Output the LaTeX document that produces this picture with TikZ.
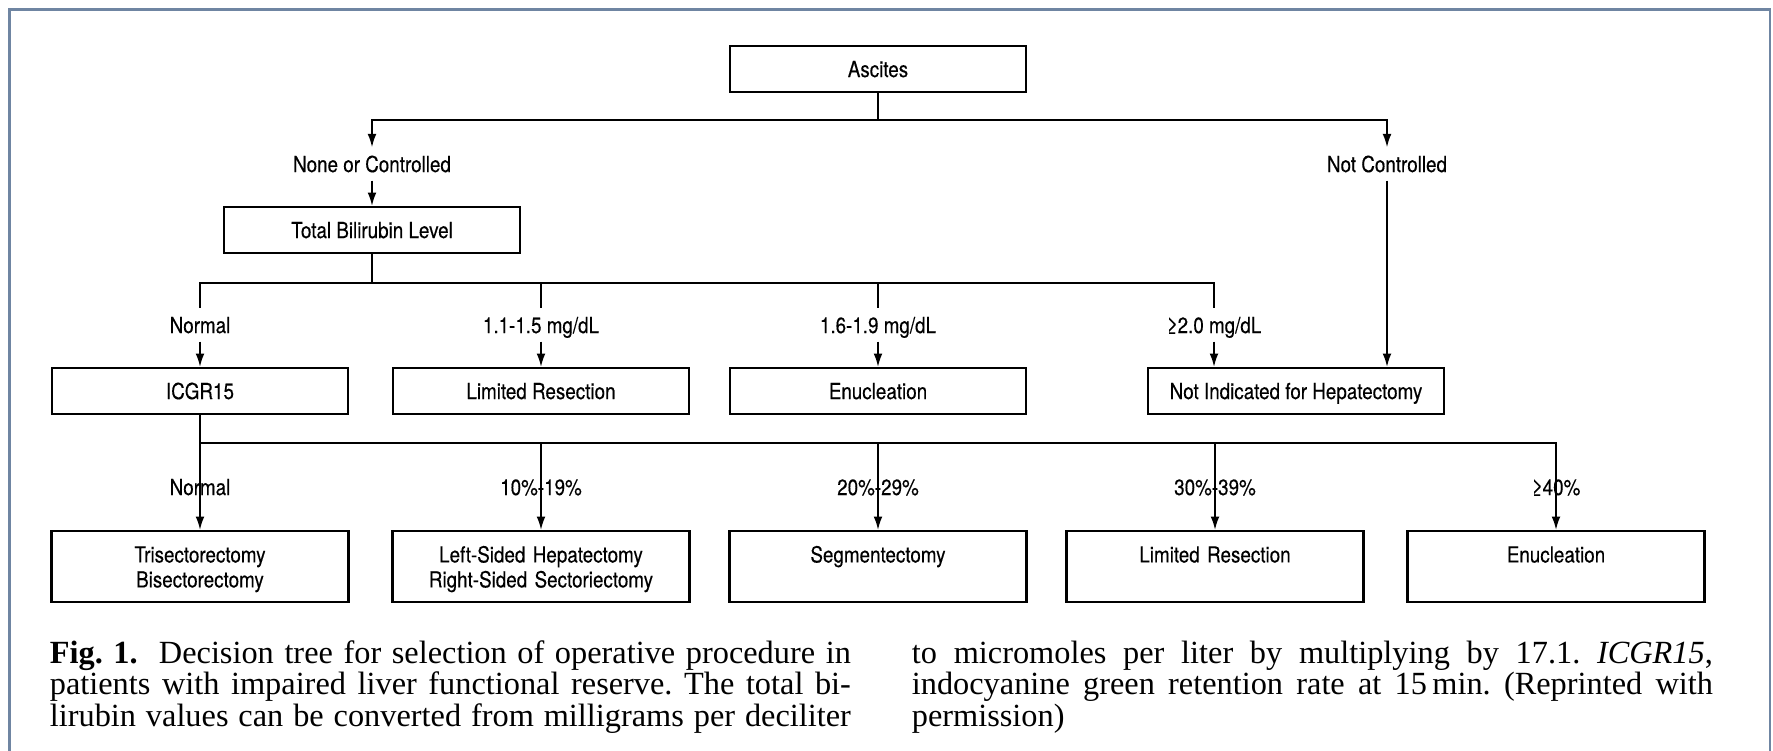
\documentclass[tikz,border=0pt]{standalone}
\usepackage{fontspec}
\usetikzlibrary{arrows.meta}

\newfontfamily\chartfont[FakeStretch=0.85,FakeBold=0.3]{TeX Gyre Heros}
\newfontfamily\captfont{Liberation Serif}
\definecolor{framecol}{HTML}{6F85A2}
\setlength{\parindent}{0pt}
\frenchspacing

\tikzset{
  box/.style={draw, line width=0.6pt, minimum width=2.96cm, minimum height=0.46cm,
    inner sep=0pt, text height=4.6pt, text depth=0pt,
    font=\chartfont\fontsize{6.3}{7.1}\selectfont},
  leaf/.style={draw, line width=0.6pt, minimum width=2.97cm, text width=2.8cm,
    align=center, inner xsep=0pt, inner ysep=4.35pt, text height=4.6pt, text depth=6.9pt,
    font=\chartfont\fontsize{6.3}{7.1}\selectfont},
  lbl/.style={inner xsep=1pt, inner ysep=2.2pt, text height=4.6pt, text depth=0pt,
    font=\chartfont\fontsize{6.3}{7.1}\selectfont},
  capt/.style={anchor=base west, inner sep=0pt, text width=8.01cm, align=justify,
    font=\captfont\fontsize{9.2}{9.1}\selectfont}
}

\begin{document}
\begin{tikzpicture}[line width=0.5pt, >={Latex[length=3.8pt,width=2.5pt]}]

\useasboundingbox (0,0) rectangle (17.73,-7.51);
\draw[framecol, line width=0.6pt] (0.095,-0.095) rectangle (17.70,-7.70);

% plot the ascites box
\node[box] (ascites) at (8.78,-0.69) {Ascites};
\coordinate (bus1) at (8.78,-1.20);
\draw (ascites) -- (bus1);

\node[lbl] (nonectl) at (3.72,-1.64) {None or Controlled};
\node[lbl] (notctl) at (13.87,-1.64) {Not Controlled};
\draw[->] (bus1) -| (nonectl);
\draw[->] (bus1) -| (notctl);

% plot the bilirubin level
\node[box] (bili) at (3.72,-2.30) {Total Bilirubin Level};
\draw[->] (nonectl) -- (bili);
\coordinate (bus2) at (3.72,-2.83);
\draw (bili) -- (bus2);

\node[lbl] (normA) at (2.00,-3.25) {Normal};
\node[lbl] (lim15) at (5.41,-3.25) {1.1-1.5 mg/dL};
\node[lbl] (mid19) at (8.78,-3.25) {1.6-1.9 mg/dL};
\node[lbl] (ge20) at (12.14,-3.25) {≥2.0 mg/dL};
\draw (bus2) -| (normA);
\draw (bus2) -| (lim15);
\draw (bus2) -| (mid19);
\draw (bus2) -| (ge20);

% second row of boxes
\node[box] (icgr) at (2.00,-3.91) {ICGR15};
\node[box] (limres) at (5.41,-3.91) {Limited Resection};
\node[box] (enuc) at (8.78,-3.91) {Enucleation};
\node[box] (notind) at (12.96,-3.91) {Not Indicated for Hepatectomy};
\draw[->] (normA) -- (icgr);
\draw[->] (lim15) -- (limres);
\draw[->] (mid19) -- (enuc);
\draw[->] (ge20) -- (ge20 |- notind.north);
\draw[->] (notctl) -- (notctl |- notind.north);

% plot the ICGR15 leaves
\coordinate (bus3) at (2.00,-4.43);
\draw (icgr) -- (bus3);

\node[leaf] (trisec) at (2.00,-5.665) {Trisectorectomy\\Bisectorectomy};
\node[leaf] (leftsided) at (5.41,-5.665) {Left-Sided Hepatectomy\\Right-Sided Sectoriectomy};
\node[leaf] (segment) at (8.78,-5.665) {Segmentectomy};
\node[leaf] (limres2) at (12.15,-5.665) {Limited Resection};
\node[leaf] (enuc2) at (15.56,-5.665) {Enucleation};

\draw[->] (bus3) -| (trisec);
\draw[->] (bus3) -| (leftsided);
\draw[->] (bus3) -| (segment);
\draw[->] (bus3) -| (limres2);
\draw[->] (bus3) -| (enuc2);

\node[lbl] (normB) at (2.00,-4.87) {Normal};
\node[lbl] (pc10) at (5.41,-4.87) {10\%-19\%};
\node[lbl] (pc20) at (8.78,-4.87) {20\%-29\%};
\node[lbl] (pc30) at (12.15,-4.87) {30\%-39\%};
\node[lbl] (pc40) at (15.56,-4.87) {≥40\%};

% caption in two columns
\node[capt] (captA) at (0.49,-6.63) {\textbf{Fig. 1.}\ \ Decision tree for selection of operative procedure in\linebreak patients with impaired liver functional reserve. The total bi-\linebreak lirubin values can be converted from milligrams per deciliter\parfillskip=0pt\par};
\node[capt] (captB) at (9.11,-6.63) {to micromoles per liter by multiplying by 17.1. \textit{ICGR15},\linebreak indocyanine green retention rate at 15\,min. (Reprinted with\linebreak permission)};

\end{tikzpicture}
\end{document}
